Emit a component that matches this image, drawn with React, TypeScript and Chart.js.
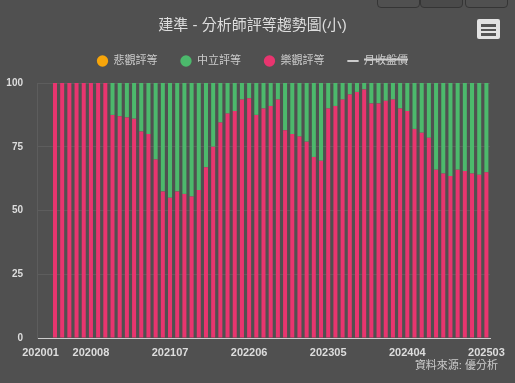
import React, { useEffect, useRef } from 'react';
import { Chart, registerables } from 'chart.js';

Chart.register(...registerables);

const months = [
  '202001','202002','202003','202004','202005','202006','202007','202008','202009','202010','202011','202012',
  '202101','202102','202103','202104','202105','202106','202107','202108','202109','202110','202111','202112',
  '202201','202202','202203','202204','202205','202206','202207','202208','202209','202210','202211','202212',
  '202301','202302','202303','202304','202305','202306','202307','202308','202309','202310','202311','202312',
  '202401','202402','202403','202404','202405','202406','202407','202408','202409','202410','202411','202412',
  '202501','202502','202503',
];

const xTickLabels = ['202001', '202008', '202107', '202206', '202305', '202404', '202503'];
const yTicks = [0, 25, 50, 75, 100];

const bearish: (number | null)[] = [
  null, null, 0, 0, 0, 0, 0, 0, 0, 0, 0, 0,
  0, 0, 0, 0, 0, 0, 0, 0, 0, 0, 0, 0,
  0, 0, 0, 0, 0, 0, 0, 0, 0, 0, 0, 0,
  0, 0, 0, 0, 0, 0, 0, 0, 0, 0, 0, 0,
  0, 0, 0, 0, 0, 0, 0, 0, 0, 0, 0, 0,
  0, 0, 0,
];

const neutral: (number | null)[] = [
  null, null, 0, 0, 0, 0, 0, 0, 0, 0, 12.5, 13,
  13.5, 14, 19, 20, 30, 42.5, 45, 42.5, 43.5, 44.5, 42, 33,
  25, 15.5, 12, 11, 6.5, 6, 12.5, 10, 9, 6.5, 18.5, 20,
  21, 23, 29, 30.5, 10, 9, 6.5, 4.5, 3.5, 2.5, 8, 8,
  7, 6.5, 10, 11, 18, 19.5, 21.5, 34, 35.5, 36.5, 34, 34.5,
  35.5, 36, 35,
];

const bullish: (number | null)[] = [
  null, null, 100, 100, 100, 100, 100, 100, 100, 100, 87.5, 87,
  86.5, 86, 81, 80, 70, 57.5, 55, 57.5, 56.5, 55.5, 58, 67,
  75, 84.5, 88, 89, 93.5, 94, 87.5, 90, 91, 93.5, 81.5, 80,
  79, 77, 71, 69.5, 90, 91, 93.5, 95.5, 96.5, 97.5, 92, 92,
  93, 93.5, 90, 89, 82, 80.5, 78.5, 66, 64.5, 63.5, 66, 65.5,
  64.5, 64, 65,
];

// hidden series (shown struck-through in the legend)
const closePrice: (number | null)[] = [];

const legendOrder: Record<string, number> = { '悲觀評等': 0, '中立評等': 1, '樂觀評等': 2, '月收盤價': 3 };

const FONT = '"Liberation Sans", "Noto Sans CJK TC", sans-serif';

export default function App() {
  const ref = useRef<HTMLCanvasElement>(null);

  useEffect(() => {
    document.body.style.margin = '0';
    Chart.defaults.font.family = FONT;
    const chart = new Chart(ref.current!, {
      type: 'bar',
      data: {
        labels: months,
        datasets: [
          { label: '悲觀評等', data: bearish, backgroundColor: '#f7a50a', borderWidth: 0, pointStyle: 'circle' },
          { label: '樂觀評等', data: bullish, backgroundColor: '#e8356f', borderWidth: 0, pointStyle: 'circle' },
          { label: '中立評等', data: neutral, backgroundColor: '#4cb96c', borderWidth: 0, pointStyle: 'circle' },
          {
            type: 'line', label: '月收盤價', data: closePrice, hidden: true,
            borderColor: '#cccccc', backgroundColor: '#cccccc', borderWidth: 2,
            pointStyle: 'line', yAxisID: 'y2',
          } as any,
        ],
      },
      options: {
        animation: false,
        responsive: false,
        maintainAspectRatio: false,
        datasets: { bar: { categoryPercentage: 1, barPercentage: 0.56 } },
        layout: { padding: { left: 0, right: 10, top: 0, bottom: 0 } },
        plugins: {
          title: {
            display: true,
            text: '建準 - 分析師評等趨勢圖(小)',
            color: '#dddddd',
            font: { size: 15, weight: 'normal', lineHeight: 1.2 },
            padding: { top: 17, bottom: -2.5 },
          },
          subtitle: {
            display: true,
            text: '',
            weight: 500,
            font: { size: 1, lineHeight: 1 },
            padding: { top: 3, bottom: 2.5 },
          } as any,
          legend: {
            display: true,
            labels: {
              usePointStyle: true,
              boxHeight: 8,
              color: '#cccccc',
              font: { size: 11 },
              padding: 23,
              sort: (a: any, b: any) => legendOrder[a.text] - legendOrder[b.text],
            },
          },
          tooltip: { enabled: false },
        },
        scales: {
          x: {
            stacked: true,
            offset: true,
            grid: { display: false, drawTicks: false },
            border: { display: true, color: '#cccccc', width: 1 },
            ticks: {
              autoSkip: false,
              maxRotation: 0,
              minRotation: 0,
              padding: 8,
              color: '#dddddd',
              font: { size: 11, weight: 'bold' },
              callback: (_v: any, i: number) => (xTickLabels.includes(months[i]) ? months[i] : ''),
            },
            afterFit: (s: any) => { s.height = 45; },
          },
          y: {
            stacked: true,
            min: 0,
            max: 100,
            afterBuildTicks: (s: any) => { s.ticks = yTicks.map((v) => ({ value: v })); },
            grid: { color: '#5d5d5d', drawTicks: false },
            border: { display: true, color: '#5d5d5d' },
            ticks: {
              padding: 14,
              color: '#dddddd',
              font: { size: 10, weight: 'bold' },
            },
            afterFit: (s: any) => { s.width = 37; },
          },
          y2: {
            display: true,
            position: 'right',
            grid: { display: false, drawTicks: false },
            border: { display: false },
            ticks: { display: false },
            afterFit: (s: any) => { s.width = 15; },
          },
        },
      },
    });
    return () => chart.destroy();
  }, []);

  const btn = (left: number, width: number): React.CSSProperties => ({
    position: 'absolute', left, top: -10, width, height: 18,
    border: '1px solid #353535', borderRadius: 4, boxSizing: 'border-box' as any,
  });

  return (
    <div style={{ position: 'relative', width: 515, height: 383, background: '#505050', overflow: 'hidden' }}>
      <canvas ref={ref} width={515} height={383} style={{ display: 'block', width: 515, height: 383 }} />
      <div style={{ ...btn(377, 43) }} />
      <div style={{ ...btn(420, 43), background: '#4a4a4a' }} />
      <div style={{ ...btn(465, 43) }} />
      <div style={{ position: 'absolute', left: 477, top: 19, width: 23, height: 20, background: '#e3e3e3', borderRadius: 2 }}>
        <div style={{ position: 'absolute', left: 4, top: 5, width: 15, height: 2.5, background: '#555' }} />
        <div style={{ position: 'absolute', left: 4, top: 9.5, width: 15, height: 2.5, background: '#555' }} />
        <div style={{ position: 'absolute', left: 4, top: 14, width: 15, height: 2.5, background: '#555' }} />
      </div>
      <div style={{
        position: 'absolute', right: 17, top: 358, fontFamily: FONT, fontSize: 11, lineHeight: '14px',
        color: '#cccccc', whiteSpace: 'nowrap',
      }}>資料來源: 優分析</div>
    </div>
  );
}
